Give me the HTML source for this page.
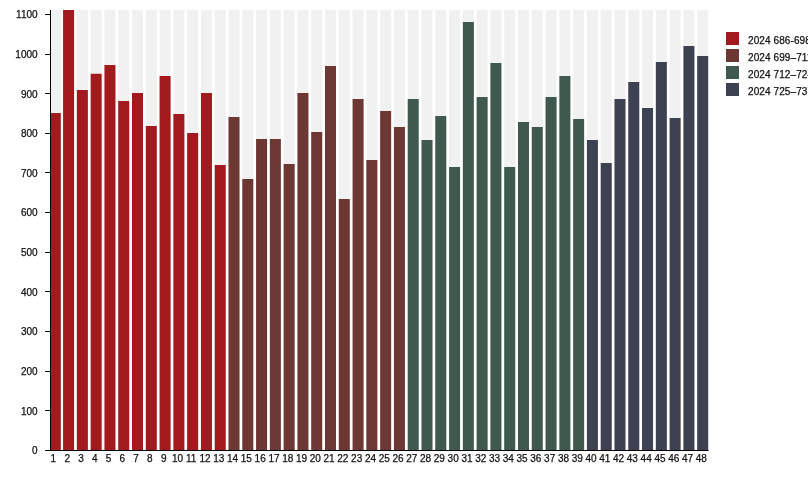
<!DOCTYPE html>
<html><head><meta charset="utf-8"><style>
html,body{margin:0;padding:0;background:#fff;width:808px;height:500px;overflow:hidden}
svg{display:block;will-change:transform}
text{font-family:"Liberation Sans",sans-serif;font-size:10px;fill:#111;stroke:#111;stroke-width:0.25px}
</style></head><body>
<svg width="808" height="500" viewBox="0 0 808 500">
<rect x="50.50" y="10" width="10.3" height="440.40" fill="#f1f1f1"/>
<rect x="63.08" y="10" width="11.0" height="440.40" fill="#f1f1f1"/>
<rect x="76.87" y="10" width="11.0" height="440.40" fill="#f1f1f1"/>
<rect x="90.66" y="10" width="11.0" height="440.40" fill="#f1f1f1"/>
<rect x="104.44" y="10" width="11.0" height="440.40" fill="#f1f1f1"/>
<rect x="118.22" y="10" width="11.0" height="440.40" fill="#f1f1f1"/>
<rect x="132.01" y="10" width="11.0" height="440.40" fill="#f1f1f1"/>
<rect x="145.80" y="10" width="11.0" height="440.40" fill="#f1f1f1"/>
<rect x="159.58" y="10" width="11.0" height="440.40" fill="#f1f1f1"/>
<rect x="173.37" y="10" width="11.0" height="440.40" fill="#f1f1f1"/>
<rect x="187.15" y="10" width="11.0" height="440.40" fill="#f1f1f1"/>
<rect x="200.94" y="10" width="11.0" height="440.40" fill="#f1f1f1"/>
<rect x="214.72" y="10" width="11.0" height="440.40" fill="#f1f1f1"/>
<rect x="228.50" y="10" width="11.0" height="440.40" fill="#f1f1f1"/>
<rect x="242.29" y="10" width="11.0" height="440.40" fill="#f1f1f1"/>
<rect x="256.07" y="10" width="11.0" height="440.40" fill="#f1f1f1"/>
<rect x="269.86" y="10" width="11.0" height="440.40" fill="#f1f1f1"/>
<rect x="283.64" y="10" width="11.0" height="440.40" fill="#f1f1f1"/>
<rect x="297.43" y="10" width="11.0" height="440.40" fill="#f1f1f1"/>
<rect x="311.22" y="10" width="11.0" height="440.40" fill="#f1f1f1"/>
<rect x="325.00" y="10" width="11.0" height="440.40" fill="#f1f1f1"/>
<rect x="338.79" y="10" width="11.0" height="440.40" fill="#f1f1f1"/>
<rect x="352.57" y="10" width="11.0" height="440.40" fill="#f1f1f1"/>
<rect x="366.36" y="10" width="11.0" height="440.40" fill="#f1f1f1"/>
<rect x="380.14" y="10" width="11.0" height="440.40" fill="#f1f1f1"/>
<rect x="393.93" y="10" width="11.0" height="440.40" fill="#f1f1f1"/>
<rect x="407.71" y="10" width="11.0" height="440.40" fill="#f1f1f1"/>
<rect x="421.50" y="10" width="11.0" height="440.40" fill="#f1f1f1"/>
<rect x="435.28" y="10" width="11.0" height="440.40" fill="#f1f1f1"/>
<rect x="449.06" y="10" width="11.0" height="440.40" fill="#f1f1f1"/>
<rect x="462.85" y="10" width="11.0" height="440.40" fill="#f1f1f1"/>
<rect x="476.63" y="10" width="11.0" height="440.40" fill="#f1f1f1"/>
<rect x="490.42" y="10" width="11.0" height="440.40" fill="#f1f1f1"/>
<rect x="504.21" y="10" width="11.0" height="440.40" fill="#f1f1f1"/>
<rect x="517.99" y="10" width="11.0" height="440.40" fill="#f1f1f1"/>
<rect x="531.77" y="10" width="11.0" height="440.40" fill="#f1f1f1"/>
<rect x="545.56" y="10" width="11.0" height="440.40" fill="#f1f1f1"/>
<rect x="559.35" y="10" width="11.0" height="440.40" fill="#f1f1f1"/>
<rect x="573.13" y="10" width="11.0" height="440.40" fill="#f1f1f1"/>
<rect x="586.91" y="10" width="11.0" height="440.40" fill="#f1f1f1"/>
<rect x="600.70" y="10" width="11.0" height="440.40" fill="#f1f1f1"/>
<rect x="614.49" y="10" width="11.0" height="440.40" fill="#f1f1f1"/>
<rect x="628.27" y="10" width="11.0" height="440.40" fill="#f1f1f1"/>
<rect x="642.05" y="10" width="11.0" height="440.40" fill="#f1f1f1"/>
<rect x="655.84" y="10" width="11.0" height="440.40" fill="#f1f1f1"/>
<rect x="669.62" y="10" width="11.0" height="440.40" fill="#f1f1f1"/>
<rect x="683.41" y="10" width="11.0" height="440.40" fill="#f1f1f1"/>
<rect x="697.19" y="10" width="11.0" height="440.40" fill="#f1f1f1"/>
<rect x="50.50" y="113.00" width="10.3" height="337.40" fill="#a2191e"/>
<rect x="63.08" y="10.00" width="11.0" height="440.40" fill="#a2191e"/>
<rect x="76.87" y="90.00" width="11.0" height="360.40" fill="#a2191e"/>
<rect x="90.66" y="73.75" width="11.0" height="376.65" fill="#a2191e"/>
<rect x="104.44" y="65.00" width="11.0" height="385.40" fill="#a2191e"/>
<rect x="118.22" y="101.00" width="11.0" height="349.40" fill="#a2191e"/>
<rect x="132.01" y="93.00" width="11.0" height="357.40" fill="#a2191e"/>
<rect x="145.80" y="126.00" width="11.0" height="324.40" fill="#a2191e"/>
<rect x="159.58" y="76.00" width="11.0" height="374.40" fill="#a2191e"/>
<rect x="173.37" y="114.00" width="11.0" height="336.40" fill="#a2191e"/>
<rect x="187.15" y="133.00" width="11.0" height="317.40" fill="#a2191e"/>
<rect x="200.94" y="93.00" width="11.0" height="357.40" fill="#a2191e"/>
<rect x="214.72" y="165.00" width="11.0" height="285.40" fill="#a2191e"/>
<rect x="228.50" y="117.00" width="11.0" height="333.40" fill="#6d3733"/>
<rect x="242.29" y="179.00" width="11.0" height="271.40" fill="#6d3733"/>
<rect x="256.07" y="139.00" width="11.0" height="311.40" fill="#6d3733"/>
<rect x="269.86" y="139.00" width="11.0" height="311.40" fill="#6d3733"/>
<rect x="283.64" y="164.00" width="11.0" height="286.40" fill="#6d3733"/>
<rect x="297.43" y="93.00" width="11.0" height="357.40" fill="#6d3733"/>
<rect x="311.22" y="132.00" width="11.0" height="318.40" fill="#6d3733"/>
<rect x="325.00" y="66.00" width="11.0" height="384.40" fill="#6d3733"/>
<rect x="338.79" y="199.00" width="11.0" height="251.40" fill="#6d3733"/>
<rect x="352.57" y="99.00" width="11.0" height="351.40" fill="#6d3733"/>
<rect x="366.36" y="160.00" width="11.0" height="290.40" fill="#6d3733"/>
<rect x="380.14" y="111.00" width="11.0" height="339.40" fill="#6d3733"/>
<rect x="393.93" y="127.00" width="11.0" height="323.40" fill="#6d3733"/>
<rect x="407.71" y="99.00" width="11.0" height="351.40" fill="#40594e"/>
<rect x="421.50" y="140.00" width="11.0" height="310.40" fill="#40594e"/>
<rect x="435.28" y="116.00" width="11.0" height="334.40" fill="#40594e"/>
<rect x="449.06" y="167.00" width="11.0" height="283.40" fill="#40594e"/>
<rect x="462.85" y="22.00" width="11.0" height="428.40" fill="#40594e"/>
<rect x="476.63" y="97.00" width="11.0" height="353.40" fill="#40594e"/>
<rect x="490.42" y="63.00" width="11.0" height="387.40" fill="#40594e"/>
<rect x="504.21" y="167.00" width="11.0" height="283.40" fill="#40594e"/>
<rect x="517.99" y="122.00" width="11.0" height="328.40" fill="#40594e"/>
<rect x="531.77" y="127.00" width="11.0" height="323.40" fill="#40594e"/>
<rect x="545.56" y="97.00" width="11.0" height="353.40" fill="#40594e"/>
<rect x="559.35" y="76.00" width="11.0" height="374.40" fill="#40594e"/>
<rect x="573.13" y="119.00" width="11.0" height="331.40" fill="#40594e"/>
<rect x="586.91" y="140.00" width="11.0" height="310.40" fill="#3d4151"/>
<rect x="600.70" y="163.00" width="11.0" height="287.40" fill="#3d4151"/>
<rect x="614.49" y="99.00" width="11.0" height="351.40" fill="#3d4151"/>
<rect x="628.27" y="82.00" width="11.0" height="368.40" fill="#3d4151"/>
<rect x="642.05" y="108.00" width="11.0" height="342.40" fill="#3d4151"/>
<rect x="655.84" y="62.00" width="11.0" height="388.40" fill="#3d4151"/>
<rect x="669.62" y="118.00" width="11.0" height="332.40" fill="#3d4151"/>
<rect x="683.41" y="46.00" width="11.0" height="404.40" fill="#3d4151"/>
<rect x="697.19" y="56.00" width="11.0" height="394.40" fill="#3d4151"/>
<line x1="50.5" y1="10" x2="50.5" y2="450.5" stroke="#000" stroke-width="1"/>
<line x1="45" y1="450.5" x2="708.6" y2="450.5" stroke="#000" stroke-width="1"/>
<line x1="45" y1="450.50" x2="50.5" y2="450.50" stroke="#000" stroke-width="1"/>
<text x="37.6" y="454.30" text-anchor="end">0</text>
<line x1="45" y1="410.50" x2="50.5" y2="410.50" stroke="#000" stroke-width="1"/>
<text x="37.6" y="414.66" text-anchor="end">100</text>
<line x1="45" y1="371.50" x2="50.5" y2="371.50" stroke="#000" stroke-width="1"/>
<text x="37.6" y="375.03" text-anchor="end">200</text>
<line x1="45" y1="331.50" x2="50.5" y2="331.50" stroke="#000" stroke-width="1"/>
<text x="37.6" y="335.39" text-anchor="end">300</text>
<line x1="45" y1="291.50" x2="50.5" y2="291.50" stroke="#000" stroke-width="1"/>
<text x="37.6" y="295.75" text-anchor="end">400</text>
<line x1="45" y1="252.50" x2="50.5" y2="252.50" stroke="#000" stroke-width="1"/>
<text x="37.6" y="256.12" text-anchor="end">500</text>
<line x1="45" y1="212.50" x2="50.5" y2="212.50" stroke="#000" stroke-width="1"/>
<text x="37.6" y="216.48" text-anchor="end">600</text>
<line x1="45" y1="172.50" x2="50.5" y2="172.50" stroke="#000" stroke-width="1"/>
<text x="37.6" y="176.85" text-anchor="end">700</text>
<line x1="45" y1="133.50" x2="50.5" y2="133.50" stroke="#000" stroke-width="1"/>
<text x="37.6" y="137.21" text-anchor="end">800</text>
<line x1="45" y1="93.50" x2="50.5" y2="93.50" stroke="#000" stroke-width="1"/>
<text x="37.6" y="97.57" text-anchor="end">900</text>
<line x1="45" y1="54.50" x2="50.5" y2="54.50" stroke="#000" stroke-width="1"/>
<text x="37.6" y="57.94" text-anchor="end">1000</text>
<line x1="45" y1="14.50" x2="50.5" y2="14.50" stroke="#000" stroke-width="1"/>
<text x="37.6" y="18.30" text-anchor="end">1100</text>
<text x="53.40" y="462.2" text-anchor="middle">1</text>
<text x="67.18" y="462.2" text-anchor="middle">2</text>
<text x="80.97" y="462.2" text-anchor="middle">3</text>
<text x="94.75" y="462.2" text-anchor="middle">4</text>
<text x="108.54" y="462.2" text-anchor="middle">5</text>
<text x="122.32" y="462.2" text-anchor="middle">6</text>
<text x="136.11" y="462.2" text-anchor="middle">7</text>
<text x="149.90" y="462.2" text-anchor="middle">8</text>
<text x="163.68" y="462.2" text-anchor="middle">9</text>
<text x="177.47" y="462.2" text-anchor="middle">10</text>
<text x="191.25" y="462.2" text-anchor="middle">11</text>
<text x="205.03" y="462.2" text-anchor="middle">12</text>
<text x="218.82" y="462.2" text-anchor="middle">13</text>
<text x="232.60" y="462.2" text-anchor="middle">14</text>
<text x="246.39" y="462.2" text-anchor="middle">15</text>
<text x="260.18" y="462.2" text-anchor="middle">16</text>
<text x="273.96" y="462.2" text-anchor="middle">17</text>
<text x="287.75" y="462.2" text-anchor="middle">18</text>
<text x="301.53" y="462.2" text-anchor="middle">19</text>
<text x="315.32" y="462.2" text-anchor="middle">20</text>
<text x="329.10" y="462.2" text-anchor="middle">21</text>
<text x="342.89" y="462.2" text-anchor="middle">22</text>
<text x="356.67" y="462.2" text-anchor="middle">23</text>
<text x="370.46" y="462.2" text-anchor="middle">24</text>
<text x="384.24" y="462.2" text-anchor="middle">25</text>
<text x="398.03" y="462.2" text-anchor="middle">26</text>
<text x="411.81" y="462.2" text-anchor="middle">27</text>
<text x="425.60" y="462.2" text-anchor="middle">28</text>
<text x="439.38" y="462.2" text-anchor="middle">29</text>
<text x="453.17" y="462.2" text-anchor="middle">30</text>
<text x="466.95" y="462.2" text-anchor="middle">31</text>
<text x="480.74" y="462.2" text-anchor="middle">32</text>
<text x="494.52" y="462.2" text-anchor="middle">33</text>
<text x="508.31" y="462.2" text-anchor="middle">34</text>
<text x="522.09" y="462.2" text-anchor="middle">35</text>
<text x="535.88" y="462.2" text-anchor="middle">36</text>
<text x="549.66" y="462.2" text-anchor="middle">37</text>
<text x="563.45" y="462.2" text-anchor="middle">38</text>
<text x="577.23" y="462.2" text-anchor="middle">39</text>
<text x="591.01" y="462.2" text-anchor="middle">40</text>
<text x="604.80" y="462.2" text-anchor="middle">41</text>
<text x="618.59" y="462.2" text-anchor="middle">42</text>
<text x="632.37" y="462.2" text-anchor="middle">43</text>
<text x="646.15" y="462.2" text-anchor="middle">44</text>
<text x="659.94" y="462.2" text-anchor="middle">45</text>
<text x="673.73" y="462.2" text-anchor="middle">46</text>
<text x="687.51" y="462.2" text-anchor="middle">47</text>
<text x="701.29" y="462.2" text-anchor="middle">48</text>
<rect x="726" y="32" width="13" height="13" fill="#a2191e"/>
<text x="748" y="43.8" letter-spacing="0.1">2024 686-698</text>
<rect x="726" y="49" width="13" height="13" fill="#6d3733"/>
<text x="748" y="60.8" letter-spacing="0.1">2024 699–711</text>
<rect x="726" y="66" width="13" height="13" fill="#40594e"/>
<text x="748" y="77.8" letter-spacing="0.1">2024 712–724</text>
<rect x="726" y="83" width="13" height="13" fill="#3d4151"/>
<text x="748" y="94.8" letter-spacing="0.1">2024 725–737</text>
</svg>
</body></html>
